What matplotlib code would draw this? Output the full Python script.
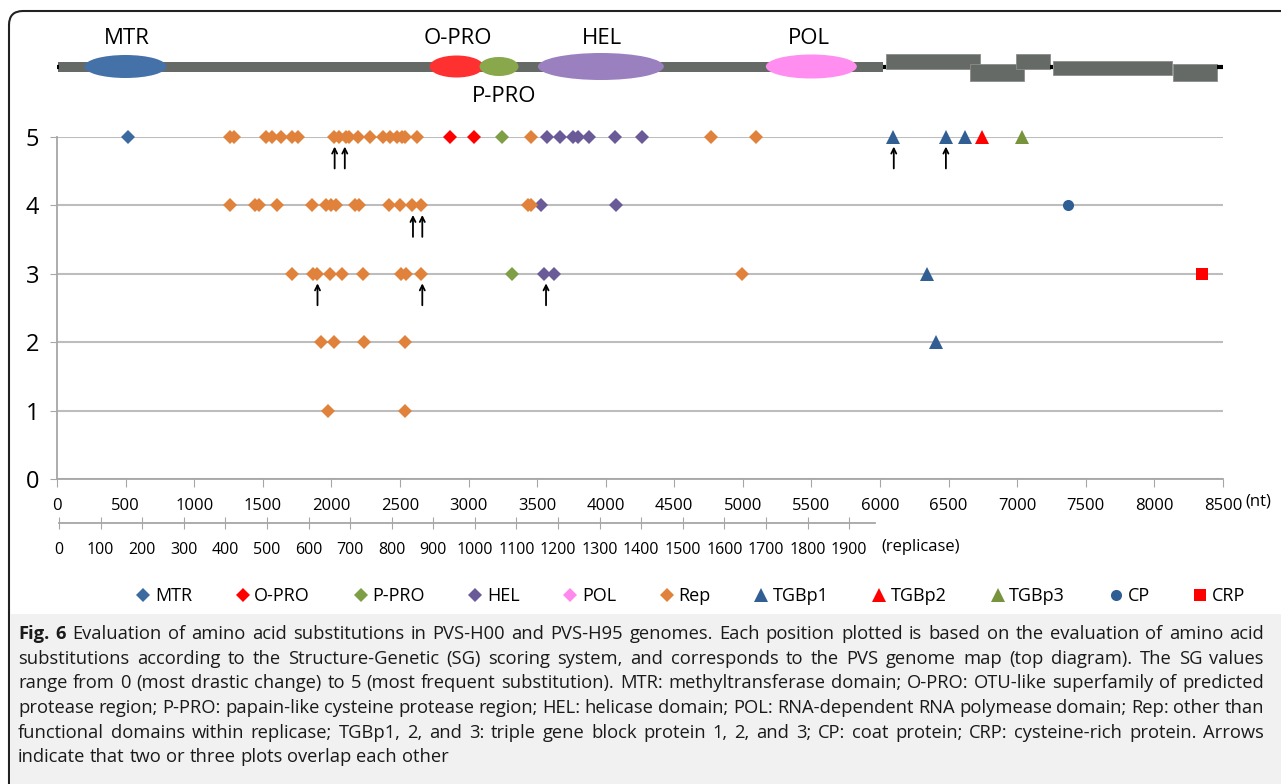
import numpy as np
import matplotlib.pyplot as plt
from matplotlib.patches import Ellipse, Rectangle, FancyBboxPatch
from matplotlib.transforms import IdentityTransform

plt.rcParams['font.family'] = ['Open Sans', 'DejaVu Sans']

# substitution positions (nt) and SG scores, one pair of lists per class
mtr_nt = [520]
mtr_sg = [5]
opro_nt = [2864, 3041]
opro_sg = [5, 5]
ppro_nt = [3241, 3318]
ppro_sg = [5, 3]
hel_nt = [3569, 3666, 3759, 3800, 3880, 4067, 4262, 3526, 4074, 3553, 3622]
hel_sg = [5, 5, 5, 5, 5, 5, 5, 4, 4, 3, 3]
pol_nt = []
pol_sg = []
rep_nt = [1261, 1293, 1520, 1570, 1635, 1711, 1760, 2016, 2055, 2105, 2130,
          2196, 2283, 2373, 2427, 2482, 2512, 2536, 2626, 3459, 4770, 5097,
          1263, 1443, 1475, 1606, 1861, 1964, 1999, 2037, 2172, 2200, 2423,
          2499, 2586, 2655, 3433, 3452,
          1713, 1868, 1893, 1992, 2076, 2233, 2507, 2544, 2655, 4993,
          1926, 2018, 2241, 2539,
          1974, 2539]
rep_sg = [5, 5, 5, 5, 5, 5, 5, 5, 5, 5, 5,
          5, 5, 5, 5, 5, 5, 5, 5, 5, 5, 5,
          4, 4, 4, 4, 4, 4, 4, 4, 4, 4, 4,
          4, 4, 4, 4, 4,
          3, 3, 3, 3, 3, 3, 3, 3, 3, 3,
          2, 2, 2, 2,
          1, 1]
tgbp1_nt = [6093, 6480, 6618, 6341, 6407]
tgbp1_sg = [5, 5, 5, 3, 2]
tgbp2_nt = [6742]
tgbp2_sg = [5]
tgbp3_nt = [7036]
tgbp3_sg = [5]
cp_nt = [7373]
cp_sg = [4]
crp_nt = [8345]
crp_sg = [3]

# overlapping points marked with arrows
arrow_nt = [2024, 2098, 6100, 6480, 2595, 2663, 1899, 2663, 3565]
arrow_sg = [5, 5, 5, 5, 4, 4, 3, 3, 3]

nt_ticks = list(range(0, 8501, 500))
aa_ticks = list(range(0, 1901, 100))

# genome map: domains (ellipses) and ORF boxes, in nt
dom_names = ['MTR', 'O-PRO', 'P-PRO', 'HEL', 'POL']
dom_center = [499, 2913, 3222, 3965, 5499]
dom_width = [598, 394, 284, 918, 663]
dom_colors = ['#4472a8', '#fe3030', '#88a84b', '#9b80c0', '#ff8ef0']
orf_start = [6046, 6653, 6992, 7259, 8132]
orf_end = [6727, 7052, 7236, 8125, 8459]

W, H = 1281, 784
fig = plt.figure(figsize=(W / 100, H / 100), dpi=100)


def box(l, t, r, b):
    return [l / W, 1 - b / H, (r - l) / W, (b - t) / H]


# page decoration: rounded frame and grey caption box
fig.patches.append(FancyBboxPatch((9, -40), 1400, 773 + 40,
                                  boxstyle='round,pad=0,rounding_size=14',
                                  transform=IdentityTransform(), fc='none',
                                  ec='#222222', lw=1.5))
fig.patches.append(Rectangle((10, 0), 1300, H - 614, transform=IdentityTransform(),
                             fc='#f1f1f1', ec='none'))

# ---- genome map ----
axm = fig.add_axes(box(57, 0, 1223, 130))
axm.set_xlim(0, 8500)
axm.set_ylim(130, 0)
axm.axis('off')
bar_col = '#666a66'
axm.add_patch(Rectangle((10, 61.5), 6010, 10, fc=bar_col, ec='none'))
for a, b in [(0, 14), (6020, 6046), (7236, 7259), (8459, 8500)]:
    axm.plot([a, b], [66.5, 66.5], color='black', lw=3, solid_capstyle='butt')
heights = [23, 22, 19, 27, 24]
for name, c, w, col, h in zip(dom_names, dom_center, dom_width, dom_colors, heights):
    axm.add_patch(Ellipse((c, 66.5), w, h, fc=col, ec='none'))
orf_top = [53.7, 64.3, 53.7, 60.7, 63.7]
orf_bot = [69, 80.7, 69, 74.7, 80.7]
for s, e, t, b in zip(orf_start, orf_end, orf_top, orf_bot):
    axm.add_patch(Rectangle((s, t), e - s, b - t, fc=bar_col, ec='#8a8d8a', lw=0.6))
lab_x = [510, 2923, 3258, 3972, 5481]
lab_y = [38, 38, 96.5, 38, 38]
for name, x, y in zip(dom_names, lab_x, lab_y):
    axm.text(x, y, name, ha='center', va='center', fontsize=16)

# ---- main scatter ----
ax = fig.add_axes(box(57, 137, 1223, 479))
styles = [
    ('MTR', mtr_nt, mtr_sg, 'D', '#3b6aa0', 7),
    ('O-PRO', opro_nt, opro_sg, 'D', '#ff0000', 7),
    ('P-PRO', ppro_nt, ppro_sg, 'D', '#7f9f46', 7),
    ('HEL', hel_nt, hel_sg, 'D', '#6a5a98', 7),
    ('POL', pol_nt, pol_sg, 'D', '#ff88ee', 7),
    ('Rep', rep_nt, rep_sg, 'D', '#e0823b', 7),
    ('TGBp1', tgbp1_nt, tgbp1_sg, '^', '#325f93', 10),
    ('TGBp2', tgbp2_nt, tgbp2_sg, '^', '#ff0000', 10),
    ('TGBp3', tgbp3_nt, tgbp3_sg, '^', '#77933c', 10),
    ('CP', cp_nt, cp_sg, 'o', '#2f5e95', 8),
    ('CRP', crp_nt, crp_sg, 's', '#ff0000', 8.4),
]
for name, xs, ys, mk, col, ms in styles:
    ax.plot(xs, ys, ls='none', marker=mk, color=col, ms=ms, mew=0,
            label=name, clip_on=False, zorder=3)

for x, y in zip(arrow_nt, arrow_sg):
    ax.annotate('', xy=(x, y - 0.14), xytext=(x, y - 0.46),
                arrowprops=dict(arrowstyle='->', color='black', lw=1.3,
                                shrinkA=0, shrinkB=0, mutation_scale=9))

ax.set_xlim(0, 8500)
ax.set_ylim(0, 5)
ax.set_xticks(nt_ticks)
ax.set_yticks(range(6))
ax.tick_params(axis='x', labelsize=12, length=6, color='#a6a6a6', pad=8)
ax.tick_params(axis='y', labelsize=17, length=5, color='#a6a6a6', pad=8)
ax.yaxis.grid(True, color='#bdbdbd', lw=1.5)
ax.set_axisbelow(True)
for s in ['top', 'right']:
    ax.spines[s].set_visible(False)
for s in ['left', 'bottom']:
    ax.spines[s].set_color('#a6a6a6')
    ax.spines[s].set_linewidth(1.3)
fig.text(1258 / W, 1 - 502 / H, '(nt)', ha='center', va='center', fontsize=12)

# ---- replicase amino-acid scale ----
ax2 = fig.add_axes(box(59, 520, 875, 522.5))
ax2.set_xlim(0, 1962)
ax2.set_yticks([])
for s in ['top', 'right', 'left']:
    ax2.spines[s].set_visible(False)
ax2.spines['bottom'].set_color('#a6a6a6')
ax2.spines['bottom'].set_linewidth(1.3)
ax2.patch.set_alpha(0)
ax2.set_xticks(aa_ticks)
ax2.tick_params(axis='x', labelsize=11.5, length=8, direction='inout',
                color='#a6a6a6', pad=10)
fig.text(921 / W, 1 - 547 / H, '(replicase)', ha='center', va='center', fontsize=12)

fig.legend(loc='center', bbox_to_anchor=(691 / W, 1 - 596 / H), ncol=11,
           frameon=False, fontsize=13, handlelength=0.7, handletextpad=0.3,
           columnspacing=2.45, borderaxespad=0)

# ---- caption, justified lines ----
caption = [
    "Fig. 6 Evaluation of amino acid substitutions in PVS-H00 and PVS-H95 genomes. Each position plotted is based on the evaluation of amino acid",
    "substitutions according to the Structure-Genetic (SG) scoring system, and corresponds to the PVS genome map (top diagram). The SG values",
    "range from 0 (most drastic change) to 5 (most frequent substitution). MTR: methyltransferase domain; O-PRO: OTU-like superfamily of predicted",
    "protease region; P-PRO: papain-like cysteine protease region; HEL: helicase domain; POL: RNA-dependent RNA polymease domain; Rep: other than",
    "functional domains within replicase; TGBp1, 2, and 3: triple gene block protein 1, 2, and 3; CP: coat protein; CRP: cysteine-rich protein. Arrows",
    "indicate that two or three plots overlap each other",
]
fig.canvas.draw()
rend = fig.canvas.get_renderer()
cap_left, cap_right = 18, 1264

# pick a size so the widest line fits the column with normal spacing
probe = [fig.text(0, 0, s, fontsize=12) for s in caption]
widest = max(t.get_window_extent(rend).width for t in probe)
for t in probe:
    t.remove()
cap_size = 12 * (cap_right - cap_left - 4) / widest

for i, line in enumerate(caption):
    y = 1 - (634 + i * 24.7) / H
    words = line.split(' ')
    arts = []
    for j, wd in enumerate(words):
        bold = (i == 0 and j < 2)
        t = fig.text(0, y, wd, fontsize=cap_size, va='center',
                     fontweight='bold' if bold else 'normal', color='#1a1a1a')
        arts.append(t)
    widths = [t.get_window_extent(rend).width for t in arts]
    space = cap_size * 0.26 * 100 / 72
    if i < len(caption) - 1:
        space = (cap_right - cap_left - sum(widths)) / (len(words) - 1)
    x = cap_left
    for t, w in zip(arts, widths):
        t.set_x(x / W)
        x += w + space

fig.savefig('out.png', dpi=100)
